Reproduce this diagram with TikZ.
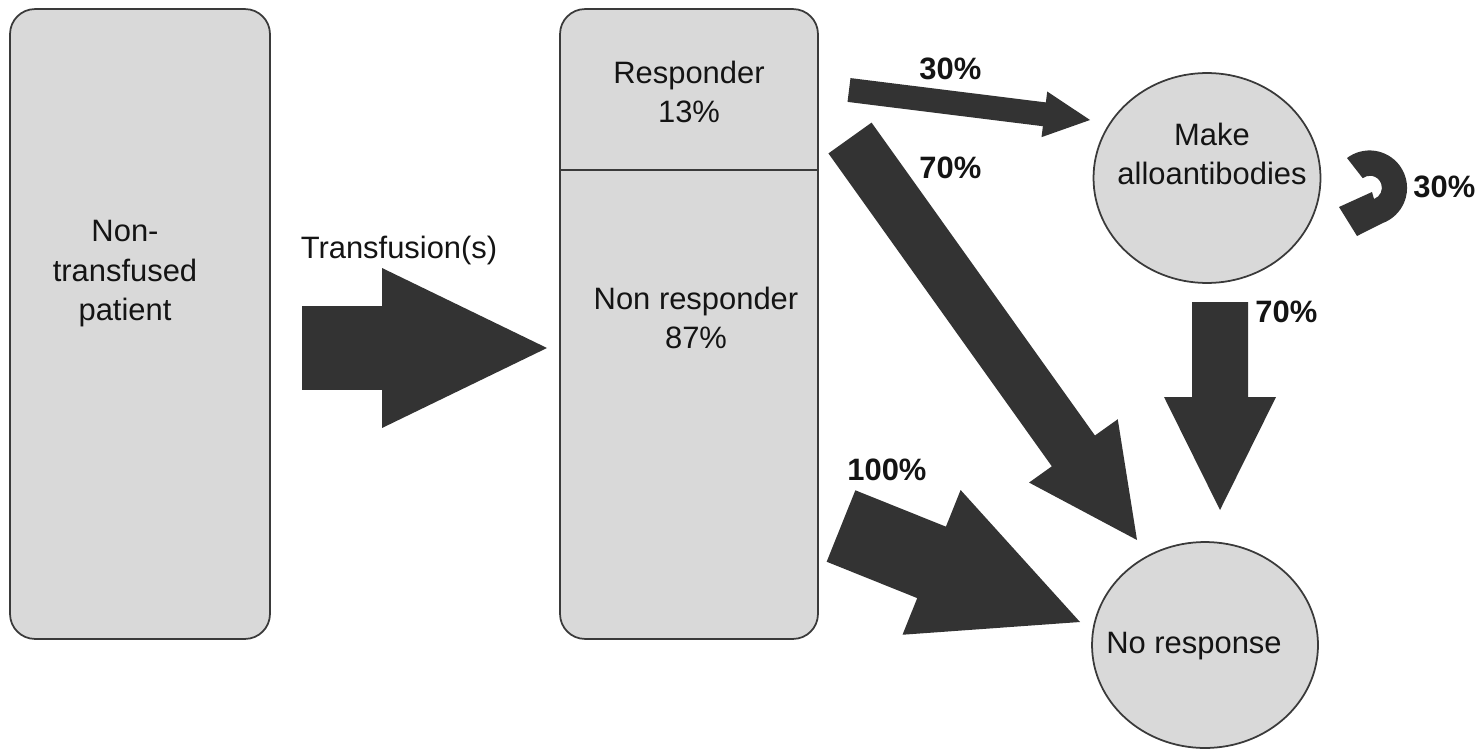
\documentclass[tikz,border=0pt]{standalone}
\usepackage{fontspec}
\setmainfont{Liberation Sans}
\usetikzlibrary{shapes.geometric,calc}

\definecolor{boxfill}{HTML}{D9D9D9}
\definecolor{edge}{HTML}{3A3A3A}
\definecolor{arrowgray}{HTML}{333333}
\definecolor{ink}{HTML}{141414}

% block arrow: start, tip, half shaft, half head, head length
\newcommand{\blockarrow}[5]{%
  \coordinate (hb) at ($(#2)!#5!(#1)$);
  \fill[arrowgray] ($(#1)!#3!90:(#2)$) -- ($(hb)!#3!90:(#2)$)
    -- ($(hb)!#4!90:(#2)$) -- (#2) -- ($(hb)!#4!-90:(#2)$)
    -- ($(hb)!#3!-90:(#2)$) -- ($(#1)!#3!-90:(#2)$) -- cycle;
}

\begin{document}
\begin{tikzpicture}[x=0.02cm, y=-0.02cm,
  box/.style={draw=edge, fill=boxfill, line width=1pt, rounded corners=0.5cm},
  oval/.style={ellipse, draw=edge, fill=boxfill, line width=1pt, inner sep=0pt},
  txt/.style={align=center, text=ink, font=\fontsize{17.6}{22.5}\selectfont},
  pct/.style={anchor=base west, inner sep=0pt, text=ink, font=\fontsize{17.6}{22.5}\selectfont\bfseries}]
  \useasboundingbox (0,0) rectangle (1480,750);

  % patient before transfusion
  \node[box, minimum width=5.2cm, minimum height=12.6cm] (pat) at (140,324) {};
  \node[txt] (pattxt) at (125,274) {Non-\\transfused\\patient};

  % after transfusion: split in two groups
  \node[box, minimum width=5.16cm, minimum height=12.6cm] (grp) at (689,324) {};
  \coordinate (cut) at (0,170);
  \draw[edge, line width=1pt] (grp.west |- cut) -- (grp.east |- cut);
  \node[txt] (resp) at (689,92) {Responder\\13\%};
  \node[txt] (nonresp) at (696,318) {Non responder\\87\%};

  % outcomes
  \node[oval, minimum width=4.54cm, minimum height=4.2cm] (allo) at (1207,178) {};
  \node[txt] (allotxt) at (1212,154) {Make\\alloantibodies};
  \node[oval, minimum width=4.52cm, minimum height=4.12cm] (nores) at (1205,645) {};
  \node[txt, anchor=base] (norestxt) at (1194,653) {No response};

  % transfusion arrow
  \coordinate (tr0) at (302,348);
  \coordinate (tr1) at (547,348);
  \blockarrow{tr0}{tr1}{0.84cm}{1.6cm}{3.3cm}
  \node[txt, anchor=base] (trlab) at (399,258) {Transfusion(s)};

  % responder -> alloantibodies / no response
  \coordinate (ra0) at (849,90);
  \coordinate (ra1) at (1090,120);
  \blockarrow{ra0}{ra1}{0.24cm}{0.46cm}{0.92cm}
  \coordinate (rn0) at (850,138);
  \coordinate (rn1) at (1137,540);
  \blockarrow{rn0}{rn1}{0.53cm}{1.09cm}{2.19cm}

  % non responder -> no response
  \coordinate (nn0) at (841,526);
  \coordinate (nn1) at (1080,622);
  \blockarrow{nn0}{nn1}{0.77cm}{1.56cm}{3.2cm}

  % alloantibodies -> no response
  \coordinate (an0) at (1220,302);
  \coordinate (an1) at (1220,510);
  \blockarrow{an0}{an1}{0.56cm}{1.12cm}{2.26cm}

  % alloantibodies loop back on itself
  \coordinate (curl) at (1347,158);
  \fill[arrowgray] (curl) arc[start angle=-127, end angle=70, radius=37.5]
    -- (1357,236) -- (1339,207) -- (1372,192) -- (1374,199)
    arc[start angle=70, end angle=-127, radius=12] -- cycle;

  % percentages
  \node[pct] (p30a) at (919,80) {30\%};
  \node[pct] (p70a) at (919,178) {70\%};
  \node[pct] (p100) at (847,480) {100\%};
  \node[pct] (p70b) at (1255,322) {70\%};
  \node[pct] (p30b) at (1413,197) {30\%};
\end{tikzpicture}
\end{document}
